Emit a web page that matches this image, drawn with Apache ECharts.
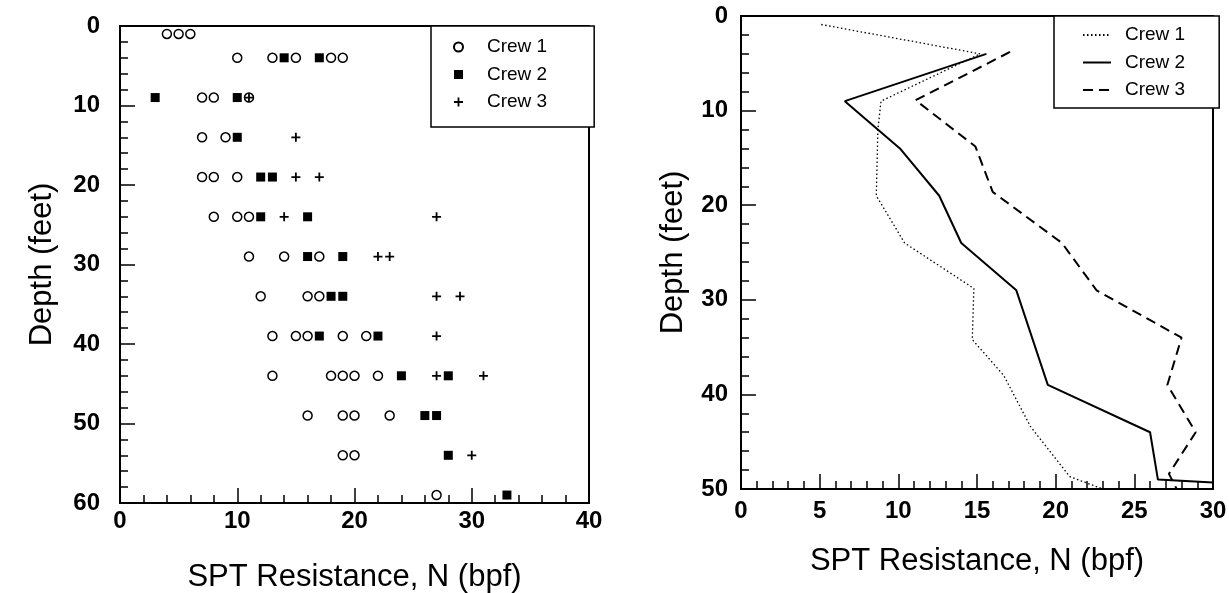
<!DOCTYPE html>
<html>
<head>
<meta charset="utf-8">
<script src="https://cdn.jsdelivr.net/npm/echarts@6/dist/echarts.min.js"></script>
<style>
  html, body { margin: 0; padding: 0; background: #fff; }
  #main { width: 1229px; height: 593px; }
</style>
</head>
<body>
<div id="main"></div>
<script>
// left panel: individual blow counts by depth
const crew1Depth = [1,1,1, 4,4,4,4,4, 9,9,9, 14,14, 19,19,19, 24,24,24, 29,29,29, 34,34,34, 39,39,39,39,39, 44,44,44,44,44, 49,49,49,49, 54,54, 59];
const crew1N     = [4,5,6, 10,13,15,18,19, 7,8,11, 7,9, 7,8,10, 8,10,11, 11,14,17, 12,16,17, 13,15,16,19,21, 13,18,19,20,22, 16,19,20,23, 19,20, 27];
const crew2Depth = [4,4, 9,9, 14, 19,19, 24,24, 29,29, 34,34, 39,39, 44,44, 49,49, 54, 59];
const crew2N     = [14,17, 3,10, 10, 12,13, 12,16, 16,19, 18,19, 17,22, 24,28, 26,27, 28, 33];
const crew3Depth = [9, 14, 19,19, 24,24, 29,29, 34,34, 39, 44,44, 54];
const crew3N     = [11, 15, 15,17, 14,27, 22,23, 27,29, 27, 27,31, 30];

// right panel: profile lines
const line1Depth = [0.9, 4, 9, 12, 19, 24, 28.8, 34.2, 38, 43.4, 48.7, 50];
const line1N     = [5.1, 15.2, 8.9, 8.7, 8.6, 10.4, 14.8, 14.7, 16.7, 18.4, 20.9, 23];
const line2Depth = [4, 9, 14, 19, 24, 29, 39, 44, 49, 49.3];
const line2N     = [15.6, 6.6, 10.1, 12.6, 14.0, 17.5, 19.5, 26.0, 26.5, 30];
const line3Depth = [3.8, 8.9, 13.8, 18.6, 24, 29, 34, 39, 44, 48.4, 51];
const line3N     = [17.1, 11.1, 14.9, 16.0, 20.4, 22.6, 28.0, 27.1, 28.9, 27.2, 28];

const crewNames = ['Crew 1', 'Crew 2', 'Crew 3'];

function pairs(xs, ys) {
  return xs.map(function (x, i) { return [x, ys[i]]; });
}

const FONT = 'Liberation Sans, Arial, sans-serif';
const plusPath = 'path://M4,0 L6,0 L6,4 L10,4 L10,6 L6,6 L6,10 L4,10 L4,6 L0,6 L0,4 L4,4 Z';

function axis(gridIndex, min, max, interval, extra) {
  const a = {
    gridIndex: gridIndex,
    type: 'value',
    min: min,
    max: max,
    interval: interval,
    axisLine: { show: true, onZero: false, lineStyle: { color: '#000', width: 2 } },
    axisTick: { show: true, inside: true, length: 15, lineStyle: { color: '#000', width: 1.5 } },
    minorTick: { show: true, splitNumber: 5, length: 8, lineStyle: { color: '#000', width: 1.5 } },
    splitLine: { show: false },
    nameLocation: 'middle',
    nameMoveOverlap: false,
    nameTextStyle: { color: '#000', fontSize: 31, fontFamily: FONT }
  };
  return Object.assign(a, extra);
}

function tickLabels(margin) {
  return { color: '#000', fontSize: 24, fontWeight: 'bold', fontFamily: FONT, margin: margin };
}

const myChart = echarts.init(document.getElementById('main'));

const option = {
  backgroundColor: '#fff',
  animation: false,
  grid: [
    { left: 120, top: 26, width: 469, height: 477, outerBoundsMode: 'none', containLabel: false,
      show: true, borderColor: '#000', borderWidth: 2 },
    { left: 741, top: 16, width: 472, height: 473, outerBoundsMode: 'none', containLabel: false,
      show: true, borderColor: '#000', borderWidth: 2 }
  ],
  xAxis: [
    axis(0, 0, 40, 10, { position: 'bottom', name: 'SPT Resistance, N (bpf)', nameGap: 59, axisLabel: tickLabels(6) }),
    axis(1, 0, 30, 5, { position: 'bottom', name: 'SPT Resistance, N (bpf)', nameGap: 57, axisLabel: tickLabels(10) })
  ],
  yAxis: [
    axis(0, 0, 60, 10, { position: 'left', inverse: true, name: 'Depth (feet)', nameGap: 62, axisLabel: tickLabels(20) }),
    axis(1, 0, 50, 10, { position: 'left', inverse: true, name: 'Depth (feet)', nameGap: 52, axisLabel: tickLabels(13) })
  ],
  legend: [
    {
      data: crewNames,
      orient: 'vertical',
      left: 431, top: 26,
      padding: [11, 47, 15, 22],
      itemGap: 7.5,
      itemWidth: 9, itemHeight: 9,
      backgroundColor: '#fff',
      borderColor: '#000', borderWidth: 1.5, borderRadius: 0,
      textStyle: { color: '#000', fontSize: 19, fontFamily: FONT, lineHeight: 20, padding: [0, 0, 0, 19] }
    },
    {
      data: crewNames.map(function (n) { return n + ' '; }),
      formatter: function (name) { return name.trim(); },
      orient: 'vertical',
      left: 1054, top: 16,
      padding: [9, 34, 8, 28],
      itemGap: 7.5,
      itemWidth: 28, itemHeight: 10,
      itemStyle: { opacity: 0 },
      backgroundColor: '#fff',
      borderColor: '#000', borderWidth: 1.5, borderRadius: 0,
      textStyle: { color: '#000', fontSize: 19, fontFamily: FONT, lineHeight: 20, padding: [0, 0, 0, 9] }
    }
  ],
  series: [
    {
      name: 'Crew 1', type: 'scatter', xAxisIndex: 0, yAxisIndex: 0,
      symbol: 'circle', symbolSize: 9,
      itemStyle: { color: '#fff', borderColor: '#000', borderWidth: 1.5, opacity: 1 },
      data: pairs(crew1N, crew1Depth)
    },
    {
      name: 'Crew 2', type: 'scatter', xAxisIndex: 0, yAxisIndex: 0,
      symbol: 'rect', symbolSize: 9,
      itemStyle: { color: '#000', opacity: 1 },
      data: pairs(crew2N, crew2Depth)
    },
    {
      name: 'Crew 3', type: 'scatter', xAxisIndex: 0, yAxisIndex: 0,
      symbol: plusPath, symbolSize: 9,
      itemStyle: { color: '#000', opacity: 1 },
      data: pairs(crew3N, crew3Depth)
    },
    {
      name: 'Crew 1 ', type: 'line', xAxisIndex: 1, yAxisIndex: 1,
      symbol: 'none', clip: true,
      lineStyle: { color: '#000', width: 1.3, type: [1.5, 2.5] },
      itemStyle: { color: '#000' },
      data: pairs(line1N, line1Depth)
    },
    {
      name: 'Crew 2 ', type: 'line', xAxisIndex: 1, yAxisIndex: 1,
      symbol: 'none', clip: true,
      lineStyle: { color: '#000', width: 2 },
      itemStyle: { color: '#000' },
      data: pairs(line2N, line2Depth)
    },
    {
      name: 'Crew 3 ', type: 'line', xAxisIndex: 1, yAxisIndex: 1,
      symbol: 'none', clip: true,
      lineStyle: { color: '#000', width: 2, type: [10, 6] },
      itemStyle: { color: '#000' },
      data: pairs(line3N, line3Depth)
    }
  ]
};

myChart.setOption(option);
</script>
</body>
</html>
